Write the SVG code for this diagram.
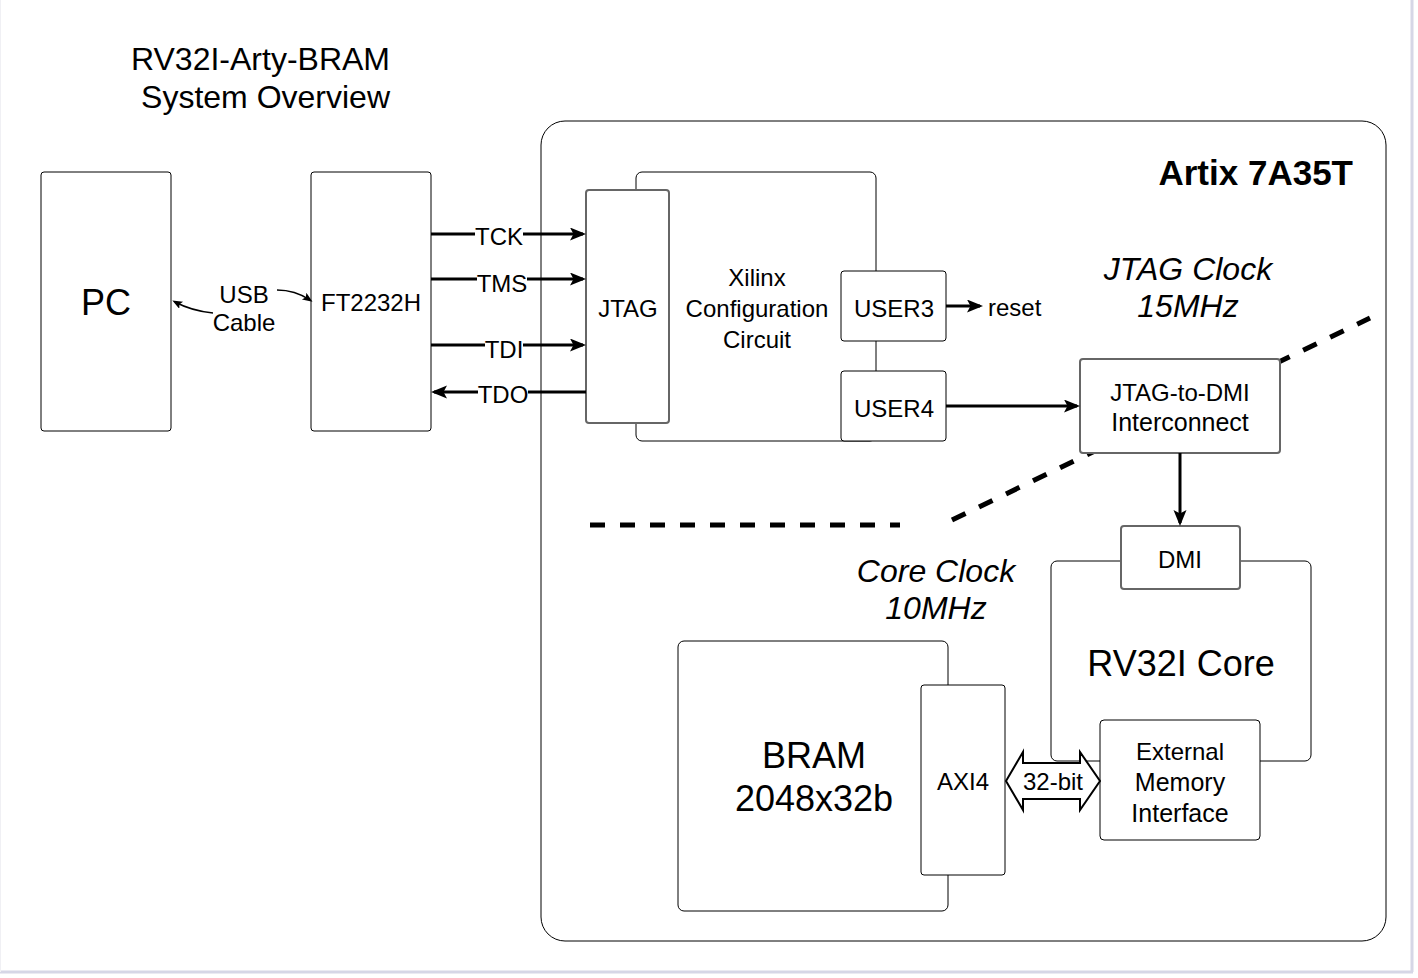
<svg xmlns="http://www.w3.org/2000/svg" width="1418" height="978" viewBox="0 0 1418 978">
<style>
text{font-family:"Liberation Sans",Arial,sans-serif;fill:#000}
.m{font-size:24px;text-anchor:middle}
.m2{font-size:25px;text-anchor:middle}
.l{font-size:36px;text-anchor:middle}
.i{font-size:32px;font-style:italic;text-anchor:middle}
.box{fill:#fff;stroke:#000;stroke-width:1}
.gbox{fill:#fff;stroke:#666;stroke-width:2}
.w{stroke:#000;stroke-width:3;fill:none}
</style>
<defs>
<marker id="ah" markerUnits="userSpaceOnUse" markerWidth="18" markerHeight="14" refX="13" refY="6.5" orient="auto">
<path d="M0,0 L16,6.5 L0,13 L3.5,6.5 z" fill="#000"/>
</marker>
<marker id="as" markerUnits="userSpaceOnUse" markerWidth="12" markerHeight="10" refX="7" refY="4" orient="auto">
<path d="M0,0 L10,4 L0,8 L2,4 z" fill="#000"/>
</marker>
</defs>
<rect x="0" y="0" width="1418" height="978" fill="#fff"/>
<line x1="1412" y1="0" x2="1412" y2="972" stroke="#d6d6e6" stroke-width="3"/>
<line x1="0" y1="972" x2="1413" y2="972" stroke="#d6d6e6" stroke-width="3"/>
<line x1="0.5" y1="0" x2="0.5" y2="972" stroke="#f0f0f4" stroke-width="1"/>

<g id="title">
<text x="390" y="69.5" style="font-size:32px;text-anchor:end">RV32I-Arty-BRAM</text>
<text x="390" y="107.5" style="font-size:32px;text-anchor:end">System Overview</text>
</g>

<g id="artix">
<rect class="box" x="541" y="121" width="845" height="820" rx="24"/>
<text x="1353" y="185" style="font-size:35px;font-weight:bold;text-anchor:end">Artix 7A35T</text>
</g>

<g id="clock-boundary">
<line x1="590" y1="525" x2="900" y2="525" stroke="#000" stroke-width="5" stroke-dasharray="15,15"/>
<line x1="952" y1="520" x2="1370" y2="318" stroke="#000" stroke-width="5" stroke-dasharray="15,15"/>
</g>

<g id="pc">
<rect class="box" x="41" y="172" width="130" height="259" rx="3"/>
<text class="l" x="106" y="315">PC</text>
</g>

<g id="ft2232h">
<rect class="box" x="311" y="172" width="120" height="259" rx="3"/>
<text class="m" x="371" y="310.5">FT2232H</text>
</g>

<g id="xilinx-config">
<rect class="box" x="636" y="172" width="240" height="269" rx="6"/>
<text class="m" x="757" y="285.5">Xilinx</text>
<text class="m" x="757" y="316.5">Configuration</text>
<text class="m" x="757" y="347.5">Circuit</text>
</g>

<g id="jtag">
<rect class="gbox" x="586" y="190" width="83" height="233" rx="3"/>
<text class="m" x="628" y="316.5">JTAG</text>
</g>

<g id="user3">
<rect class="box" x="841" y="271" width="105" height="70" rx="3"/>
<text class="m" x="894" y="316.5">USER3</text>
</g>

<g id="user4">
<rect class="box" x="841" y="371" width="105" height="70" rx="3"/>
<text class="m" x="894" y="416.5">USER4</text>
</g>

<g id="jtag-to-dmi">
<rect class="gbox" x="1080" y="359" width="200" height="94" rx="3"/>
<text class="m" x="1180" y="400.5">JTAG-to-DMI</text>
<text class="m2" x="1180" y="431">Interconnect</text>
</g>

<g id="rv32i-core">
<rect class="box" x="1051" y="561" width="260" height="200" rx="6"/>
<text class="l" x="1181" y="676">RV32I Core</text>
</g>

<g id="dmi">
<rect class="gbox" x="1121" y="526" width="119" height="63" rx="3"/>
<text class="m" x="1180" y="567.5">DMI</text>
</g>

<g id="ext-mem-if">
<rect class="box" x="1100" y="720" width="160" height="120" rx="4"/>
<text class="m" x="1180" y="759.5">External</text>
<text class="m2" x="1180" y="791">Memory</text>
<text class="m2" x="1180" y="822">Interface</text>
</g>

<g id="bram">
<rect class="box" x="678" y="641" width="270" height="270" rx="6"/>
<text class="l" x="814" y="768">BRAM</text>
<text class="l" x="814" y="811">2048x32b</text>
</g>

<g id="axi4">
<rect class="box" x="921" y="685" width="84" height="190" rx="3"/>
<text class="m" x="963" y="789.5">AXI4</text>
</g>

<g id="labels-clock">
<text class="i" x="1188" y="279.5">JTAG Clock</text>
<text class="i" x="1188" y="316.5">15MHz</text>
<text class="i" x="936" y="581.5">Core Clock</text>
<text class="i" x="936" y="618.5">10MHz</text>
</g>

<g id="connectors">
<path d="M277,290 Q295,290 310,300" stroke="#000" stroke-width="1.5" fill="none" marker-end="url(#as)"/>
<path d="M213,313 Q192,311 175,302" stroke="#000" stroke-width="1.5" fill="none" marker-end="url(#as)"/>
<text class="m" x="244" y="303">USB</text>
<text class="m" x="244" y="331">Cable</text>

<line class="w" x1="431" y1="234" x2="583" y2="234" marker-end="url(#ah)"/>
<line class="w" x1="431" y1="279" x2="583" y2="279" marker-end="url(#ah)"/>
<line class="w" x1="431" y1="345" x2="583" y2="345" marker-end="url(#ah)"/>
<line class="w" x1="586" y1="392" x2="434" y2="392" marker-end="url(#ah)"/>
<rect x="475" y="224" width="48" height="22" fill="#fff"/>
<text class="m" x="499" y="245">TCK</text>
<rect x="477" y="270" width="50" height="22" fill="#fff"/>
<text class="m" x="502" y="291.5">TMS</text>
<rect x="485" y="336" width="38" height="22" fill="#fff"/>
<text class="m" x="504" y="357.5">TDI</text>
<rect x="478" y="382" width="50" height="22" fill="#fff"/>
<text class="m" x="503" y="402.5">TDO</text>

<line class="w" x1="946" y1="306" x2="980" y2="306" marker-end="url(#ah)"/>
<text x="988" y="315.5" style="font-size:24px">reset</text>

<line class="w" x1="946" y1="406" x2="1077" y2="406" marker-end="url(#ah)"/>
<line class="w" x1="1180" y1="453" x2="1180" y2="523" marker-end="url(#ah)"/>

<polygon points="1006,781 1023,752 1023,763 1080,763 1080,752 1100,781 1080,810 1080,799 1023,799 1023,810" fill="#fff" stroke="#000" stroke-width="2" stroke-linejoin="miter"/>
<text class="m" x="1053" y="789.5">32-bit</text>
</g>
</svg>
